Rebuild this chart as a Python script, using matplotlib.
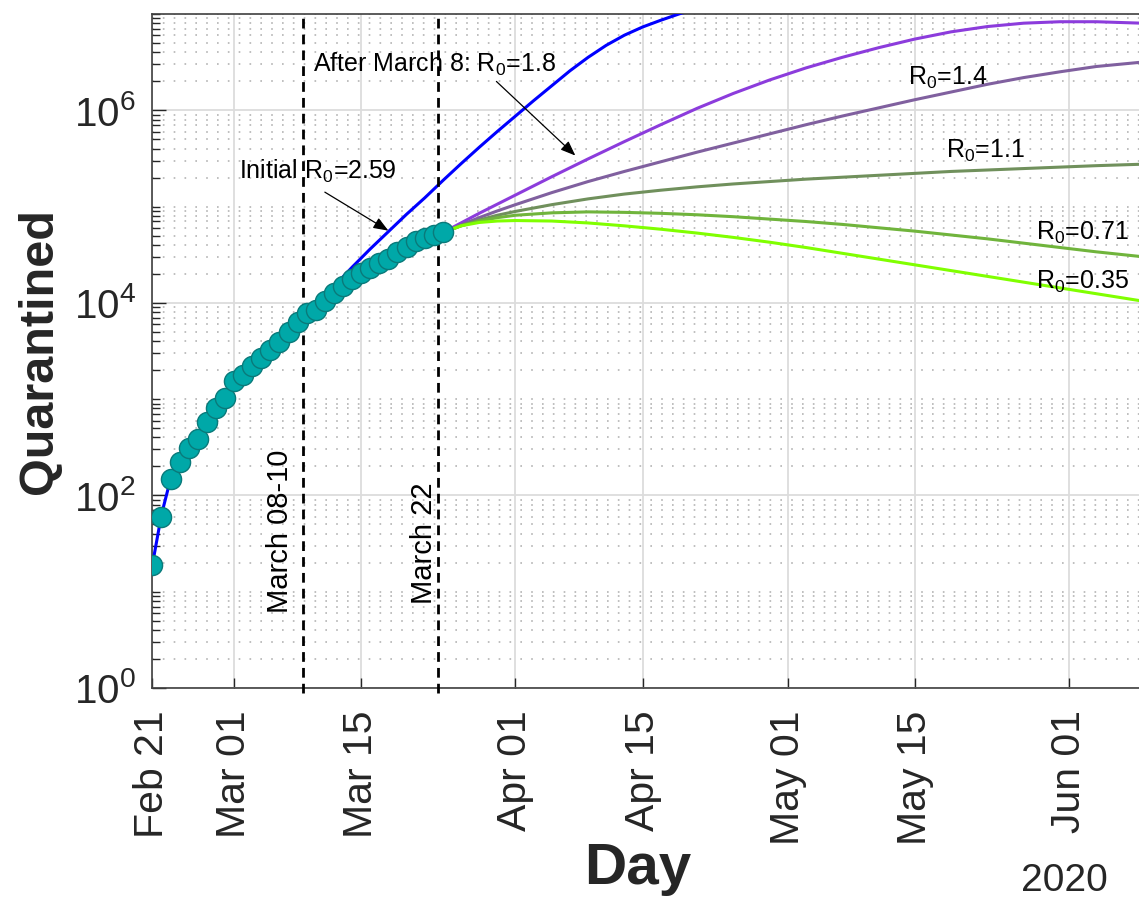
import numpy as np
import pandas as pd
import matplotlib
matplotlib.use("Agg")
import matplotlib.pyplot as plt
import matplotlib.dates as mdates
from matplotlib.ticker import FixedLocator, LogLocator, LogFormatterMathtext, NullFormatter

plt.rcParams['font.family'] = ['Liberation Sans', 'DejaVu Sans']
plt.rcParams['mathtext.fontset'] = 'custom'
plt.rcParams['mathtext.rm'] = 'Liberation Sans'
plt.rcParams['mathtext.it'] = 'Liberation Sans:italic'
plt.rcParams['mathtext.bf'] = 'Liberation Sans:bold'

# observed quarantined, daily from Feb 21 to Mar 24 2020
obs_dates = pd.date_range('2020-02-21', '2020-03-24', freq='D')
quarantined = [19, 59, 148, 220, 310, 385, 580, 800, 1040, 1550, 1800, 2230, 2700,
               3250, 3950, 4950, 6300, 7800, 8500, 10400, 12600, 14900, 17800, 20300,
               22900, 26000, 28800, 33500, 38000, 43500, 47500, 51000, 54000]

# model with the initial R0 (days after Feb 21, log10 of quarantined)
fit_days = [0, 1, 2, 3, 4, 5, 6, 7, 8, 10, 12, 14, 16, 18, 20, 22, 24, 26, 28, 30,
            32, 34, 36, 38, 40, 42, 44, 46, 48, 50, 52, 54, 56, 58, 60]
fit_log10 = [1.28, 1.80, 2.17, 2.37, 2.50, 2.65, 2.78, 2.90, 3.02, 3.25, 3.45, 3.63,
             3.82, 3.98, 4.17, 4.37, 4.56, 4.74, 4.92, 5.09, 5.27, 5.445, 5.615, 5.78,
             5.94, 6.10, 6.255, 6.41, 6.55, 6.675, 6.78, 6.865, 6.935, 7.0, 7.06]

# projections after March 22 for several R0 values
proj_days = [32, 34, 36, 38, 40, 44, 48, 52, 56, 60, 64, 68, 72, 76, 80, 84, 88, 92,
             96, 100, 104, 109]
proj_r0 = ['1.8', '1.4', '1.1', '0.71', '0.35']
proj_log10 = {
    '1.8': [4.73, 4.83, 4.93, 5.025, 5.12, 5.31, 5.495, 5.675, 5.85, 6.02, 6.175, 6.315,
            6.44, 6.55, 6.65, 6.74, 6.815, 6.87, 6.905, 6.92, 6.92, 6.905],
    '1.4': [4.73, 4.81, 4.885, 4.955, 5.02, 5.145, 5.26, 5.365, 5.465, 5.565, 5.66, 5.755,
            5.85, 5.94, 6.025, 6.11, 6.19, 6.27, 6.34, 6.40, 6.455, 6.50],
    '1.1': [4.73, 4.80, 4.86, 4.91, 4.95, 5.02, 5.08, 5.13, 5.17, 5.205, 5.235, 5.26,
            5.285, 5.305, 5.325, 5.345, 5.365, 5.38, 5.395, 5.41, 5.425, 5.44],
    '0.71': [4.73, 4.80, 4.85, 4.885, 4.91, 4.935, 4.945, 4.94, 4.93, 4.915, 4.895, 4.87,
             4.845, 4.815, 4.78, 4.745, 4.705, 4.665, 4.62, 4.575, 4.53, 4.48],
    '0.35': [4.73, 4.80, 4.835, 4.85, 4.855, 4.85, 4.83, 4.80, 4.765, 4.725, 4.68, 4.63,
             4.575, 4.515, 4.455, 4.395, 4.335, 4.275, 4.215, 4.155, 4.095, 4.02],
}
proj_colors = {'1.8': '#8c3cdc', '1.4': '#80609f', '1.1': '#70905c',
               '0.71': '#70b43c', '0.35': '#80ff00'}

tick_dates = ['2020-02-21', '2020-03-01', '2020-03-15', '2020-04-01',
              '2020-04-15', '2020-05-01', '2020-05-15', '2020-06-01']

t0 = mdates.date2num(np.datetime64('2020-02-21'))


def day(d):
    return t0 + np.asarray(d, dtype=float)


fig = plt.figure(figsize=(11.39, 9.05), dpi=100)
ax = fig.add_axes([0.1338, 0.2398, 0.8662, 0.7447])

# projections
for r0 in proj_r0:
    ax.plot(day(proj_days), 10 ** np.array(proj_log10[r0]), color=proj_colors[r0],
            lw=2.2, zorder=3)

# model fit
ax.plot(day(fit_days), 10 ** np.array(fit_log10), color='#0000ff', lw=2.2, zorder=3)

# observed points
ax.plot(mdates.date2num(obs_dates), quarantined, 'o', ms=14.5, mfc='#00a8a8',
        mec='#0a7a7a', mew=1.0, zorder=5)

# event lines
for d in [16.56, 31.47]:
    ax.axvline(day(d), ymin=-0.008, ymax=0.995, color='black', lw=2,
               ls=(0, (3.5, 2.2)), zorder=4, clip_on=False)

ax.set_yscale('log')
ax.set_ylim(1, 1e7)
ax.set_xlim(day(0), day(108.7))

ax.yaxis.set_major_locator(LogLocator(base=100))
ax.yaxis.set_minor_locator(LogLocator(base=10, subs=np.arange(1, 10), numticks=20))
ax.yaxis.set_major_formatter(LogFormatterMathtext(base=10))
ax.yaxis.set_minor_formatter(NullFormatter())

ax.xaxis.set_major_locator(FixedLocator(mdates.date2num(pd.to_datetime(tick_dates))))
ax.xaxis.set_major_formatter(mdates.DateFormatter('%b %d'))

ax.tick_params(axis='x', which='major', direction='in', length=7, width=1,
               labelsize=29.5, pad=16, labelrotation=90, colors='#262626')
ax.tick_params(axis='y', which='major', direction='in', length=10, width=1,
               labelsize=29, pad=12, colors='#262626')
ax.tick_params(axis='y', which='minor', direction='in', length=6, width=1,
               colors='#262626')

ax.grid(which='major', color='#dcdcdc', lw=1.3)
ax.yaxis.grid(which='minor', color='#b4b4b4', lw=1.2, ls=(0, (1, 5.5)))
ax.set_axisbelow(True)

for side in ['left', 'top', 'bottom']:
    ax.spines[side].set_color('#404040')
    ax.spines[side].set_linewidth(1.2)
ax.spines['right'].set_visible(False)

ax.set_ylabel('Quarantined', fontsize=35, fontweight='bold', color='#262626')
ax.yaxis.set_label_coords(-0.0915, 0.5)

# annotations
ann = dict(fontsize=18, color='black')
ax.text(day(17.7), 10 ** 6.40, 'After March 8: R$_0$=1.8', ha='left', va='baseline', **ann)
ax.annotate('', xy=(day(46.6), 10 ** 5.53), xytext=(day(37.9), 10 ** 6.30),
            arrowprops=dict(arrowstyle='-|>,head_length=0.9,head_width=0.35',
                            color='black', lw=0.9, shrinkA=0, shrinkB=0))
ax.text(day(9.5), 10 ** 5.29, 'Initial R$_0$=2.59', ha='left', va='baseline', **ann)
ax.annotate('', xy=(day(26.0), 10 ** 4.75), xytext=(day(19.0), 10 ** 5.15),
            arrowprops=dict(arrowstyle='-|>,head_length=0.9,head_width=0.35',
                            color='black', lw=0.9, shrinkA=0, shrinkB=0))
ax.text(day(83.2), 10 ** 6.26, 'R$_0$=1.4', ha='left', va='baseline', **ann)
ax.text(day(87.4), 10 ** 5.51, 'R$_0$=1.1', ha='left', va='baseline', **ann)
ax.text(day(97.4), 10 ** 4.66, 'R$_0$=0.71', ha='left', va='baseline', **ann)
ax.text(day(97.4), 10 ** 4.15, 'R$_0$=0.35', ha='left', va='baseline', **ann)

vert = dict(fontsize=21, color='black', rotation=90, rotation_mode='anchor',
            ha='left', va='baseline')
ax.text(day(14.98), 10 ** 0.78, 'March 08-10', **vert)
ax.text(day(30.78), 10 ** 0.87, 'March 22', **vert)

fig.text(638 / 1139, 1 - 884 / 905, 'Day', ha='center', va='baseline',
         fontsize=42, fontweight='bold', color='#262626')
fig.text(1064 / 1139, 1 - 891 / 905, '2020', ha='center', va='baseline',
         fontsize=28, color='#262626')

fig.savefig('out.png', dpi=100)
